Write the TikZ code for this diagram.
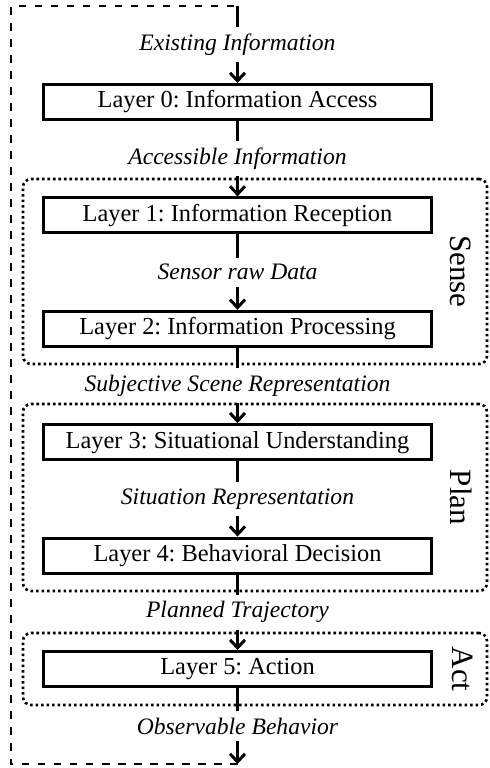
\documentclass[tikz,border=0pt]{standalone}
\usepackage{fontspec}
\setmainfont{Liberation Serif}
\usetikzlibrary{arrows.meta}
\frenchspacing
\tikzset{
  box/.style={draw, line width=1.5pt, minimum width=194pt, minimum height=17.5pt,
    inner sep=0pt, font=\fontsize{12.2}{14}\selectfont},
  lbl/.style={fill=white, inner sep=0.3333em, font=\fontsize{11.8}{14}\selectfont\itshape},
  flow/.style={line width=1.5pt, -{Straight Barb[length=4pt,width=7.5pt]}},
  grp/.style={draw, line width=1.3pt, dash pattern=on 1.3pt off 1.45pt, rounded corners=4pt,
    inner sep=0pt, fill=none},
  grplbl/.style={rotate=-90, inner sep=0pt, font=\fontsize{15.5}{18}\selectfont},
  loopline/.style={line width=1.2pt, dash pattern=on 3.75pt off 4.25pt},
}
\begin{document}
\begin{tikzpicture}[x=0.5pt, y=-0.5pt]
\useasboundingbox (0,0) rectangle (489,768);
% boxes
\node[box] (b0) at (237.5,102)   {Layer 0: Information Access};
\node[box] (b1) at (237.5,215.4) {Layer 1: Information Reception};
\node[box] (b2) at (237.5,328.8) {Layer 2: Information Processing};
\node[box] (b3) at (237.5,442.2) {Layer 3: Situational Understanding};
\node[box] (b4) at (237.5,555.6) {Layer 4: Behavioral Decision};
\node[box] (b5) at (237.5,669)   {Layer 5: Action};
\coordinate (start) at (237.5,6);
\coordinate (end) at (237.5,764);
\coordinate (loopx) at (11,384);
% flows
\draw[flow] (start) -- node[lbl]{Existing Information} (b0);
\draw[flow] (b0) -- node[lbl]{Accessible Information} (b1);
\draw[flow] (b1) -- node[lbl]{Sensor raw Data} (b2);
\draw[flow] (b2) -- node[lbl]{Subjective Scene Representation} (b3);
\draw[flow] (b3) -- node[lbl]{Situation Representation} (b4);
\draw[flow] (b4) -- node[lbl]{Planned Trajectory} (b5);
\draw[flow] (b5) -- node[lbl]{Observable Behavior} (end);
% feedback loop
\draw[loopline] (end) -- (end -| loopx) -- (start -| loopx) -- (start);
% groups
\node[grp, minimum width=232pt, minimum height=92.5pt] (sense) at (255,271.5) {};
\node[grp, minimum width=232pt, minimum height=93.5pt] (plan) at (255,497.5) {};
\node[grp, minimum width=232pt, minimum height=36pt] (act) at (255,669) {};
\node[grplbl] (senselbl) at (461,271.5) {Sense};
\node[grplbl] (planlbl) at (461,497.5) {Plan};
\node[grplbl] (actlbl) at (463,669) {Act};
\end{tikzpicture}
\end{document}
